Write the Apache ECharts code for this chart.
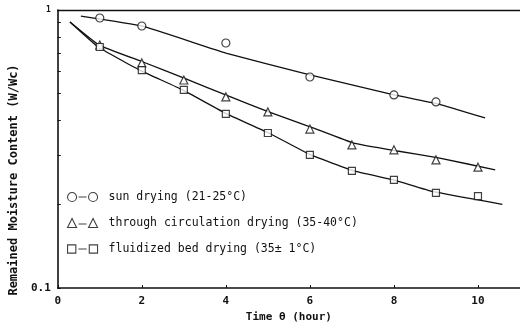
<!DOCTYPE html>
<html>
<head>
<meta charset="utf-8">
<script src="https://cdn.jsdelivr.net/npm/echarts@6/dist/echarts.min.js"></script>
<style>
html,body{margin:0;padding:0;background:#fff;}
#c{width:520px;height:334px;}
</style>
</head>
<body>
<div id="c"></div>
<script>
// Measured points
var sunHours = [1, 2, 4, 6, 8, 9];
var sunValues = [0.936, 0.876, 0.761, 0.574, 0.495, 0.467];
var tcHours = [1, 2, 3, 4, 5, 6, 7, 8, 9, 10];
var tcValues = [0.748, 0.645, 0.560, 0.487, 0.430, 0.373, 0.327, 0.314, 0.289, 0.272];
var fbHours = [1, 2, 3, 4, 5, 6, 7, 8, 9, 10];
var fbValues = [0.736, 0.608, 0.516, 0.423, 0.361, 0.301, 0.264, 0.245, 0.220, 0.214];

// Drawn curves
var sunFitHours = [0.55, 2.0, 4.0, 6.0, 8.0, 9.06, 10.17];
var sunFitValues = [0.951, 0.876, 0.700, 0.584, 0.495, 0.459, 0.409];
var tcFitHours = [0.29, 0.98, 2.03, 3.05, 4.07, 5.02, 6.07, 7.04, 8.08, 9.06, 10.41];
var tcFitValues = [0.905, 0.748, 0.650, 0.565, 0.490, 0.430, 0.377, 0.332, 0.311, 0.294, 0.266];
var fbFitHours = [0.29, 0.96, 1.95, 2.97, 4.02, 5.02, 6.02, 7.04, 7.99, 8.94, 10.58];
var fbFitValues = [0.905, 0.736, 0.608, 0.516, 0.423, 0.361, 0.301, 0.264, 0.245, 0.222, 0.200];

var seriesNames = ['sun drying (21-25°C)', 'through circulation drying (35-40°C)', 'fluidized bed drying (35± 1°C)'];
var xTicks = [0, 2, 4, 6, 8, 10];
var yTicks = [0.1, 0.2, 0.3, 0.4, 0.5, 0.6, 0.7, 0.8, 0.9, 1];
var yLabels = [0.1, 1];
var xTitle = 'Time θ (hour)';
var yTitle = 'Remained Moisture Content (W/Wc)';

function pairs(xs, ys) { return xs.map(function (x, i) { return [x, ys[i]]; }); }

var INK = '#111';
var FONT = '"DejaVu Sans Mono", monospace';

var chart = echarts.init(document.getElementById('c'), null, {renderer: 'canvas'});

function fitLine(xs, ys) {
  return {
    type: 'line', data: pairs(xs, ys), showSymbol: false, smooth: 0.1,
    lineStyle: {color: INK, width: 1.3}, silent: true, z: 2
  };
}
function marks(name, symbol, size, xs, ys) {
  return {
    name: name, type: 'scatter', data: pairs(xs, ys), symbol: symbol, symbolSize: size,
    itemStyle: {color: '#fff', borderColor: INK, borderWidth: 1.2}, z: 3
  };
}

var iconCircle = 'path://M0,4.5A4.5,4.5,0,1,0,9,4.5A4.5,4.5,0,1,0,0,4.5Z M11,4.5L19,4.5 M21,4.5A4.5,4.5,0,1,0,30,4.5A4.5,4.5,0,1,0,21,4.5Z';
var iconTri = 'path://M0,9L4.5,0L9,9Z M11,5.5L19,5.5 M21,9L25.5,0L30,9Z';
var iconRect = 'path://M0.5,0.5L8.5,0.5L8.5,8.5L0.5,8.5Z M11,4.5L19,4.5 M21.5,0.5L29.5,0.5L29.5,8.5L21.5,8.5Z';
var legendStyle = {color: 'rgba(0,0,0,0)', borderColor: INK, borderWidth: 1.1};

chart.setOption({
  backgroundColor: '#fff',
  animation: false,
  grid: {left: 57, right: 0, top: 10, bottom: 46, containLabel: false},
  legend: {
    orient: 'vertical', left: 62, top: 186, itemWidth: 30, itemHeight: 9, itemGap: 14,
    textStyle: {fontFamily: FONT, fontSize: 11.5, color: INK, padding: [0, 0, 0, 6]},
    data: [
      {name: seriesNames[0], icon: iconCircle, itemStyle: legendStyle},
      {name: seriesNames[1], icon: iconTri, itemStyle: legendStyle},
      {name: seriesNames[2], icon: iconRect, itemStyle: legendStyle}
    ],
    selectedMode: false
  },
  xAxis: [{
    type: 'value', min: 0, max: 11, interval: 2, position: 'bottom',
    name: xTitle, nameLocation: 'middle', nameGap: 21,
    nameTextStyle: {fontFamily: FONT, fontSize: 11, fontWeight: 'bold', color: INK},
    axisLine: {lineStyle: {color: INK, width: 1.6}},
    axisTick: {inside: true, length: 3, lineStyle: {color: INK}, customValues: xTicks},
    axisLabel: {fontFamily: FONT, fontSize: 11, fontWeight: 'bold', color: INK, margin: 8, customValues: xTicks},
    splitLine: {show: false}
  }, {
    type: 'value', min: 0, max: 11, position: 'top',
    axisLine: {show: true, lineStyle: {color: INK, width: 1.4}},
    axisTick: {show: false}, axisLabel: {show: false}, splitLine: {show: false}
  }],
  yAxis: {
    type: 'log', logBase: 10, min: 0.1, max: 1,
    name: yTitle, nameLocation: 'middle', nameGap: 36, nameRotate: 90,
    nameTextStyle: {fontFamily: FONT, fontSize: 12, fontWeight: 'bold', color: INK, padding: [0, 62, 0, 0]},
    axisLine: {show: true, lineStyle: {color: INK, width: 1.6}},
    axisTick: {inside: true, length: 3, lineStyle: {color: INK}, customValues: yTicks},
    axisLabel: {fontFamily: FONT, fontSize: 11, fontWeight: 'bold', color: INK, margin: 7, customValues: yLabels,
      formatter: function (v) { return v >= 0.99 ? '{s|1}' : String(v); },
      rich: {s: {fontFamily: FONT, fontSize: 8, fontWeight: 'bold', color: INK}}},
    splitLine: {show: false}
  },
  series: [
    fitLine(sunFitHours, sunFitValues),
    fitLine(tcFitHours, tcFitValues),
    fitLine(fbFitHours, fbFitValues),
    marks(seriesNames[0], 'circle', 8, sunHours, sunValues),
    marks(seriesNames[1], 'triangle', 8, tcHours, tcValues),
    marks(seriesNames[2], 'rect', 7, fbHours, fbValues)
  ]
});
</script>
</body>
</html>
